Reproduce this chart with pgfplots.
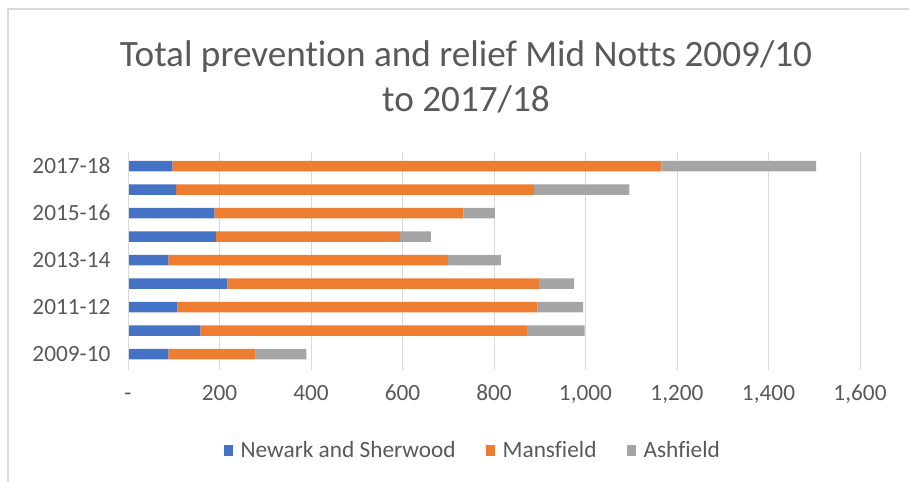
\documentclass[border=0pt]{standalone}
\usepackage{pgfplots}
\pgfplotsset{compat=1.18}
\usepackage{fontspec}
\setmainfont{Carlito}[Ligatures={NoCommon,NoRequired,NoContextual}]
\definecolor{cblue}{HTML}{4472C4}
\definecolor{corange}{HTML}{ED7D31}
\definecolor{cgray}{HTML}{A5A5A5}
\definecolor{gridc}{HTML}{D9D9D9}
\definecolor{txt}{HTML}{595959}
\begin{document}
\begin{tikzpicture}
\useasboundingbox (0pt,0pt) rectangle (909pt,482pt);
\draw[gridc, line width=2pt] (8pt,0pt) -- (8pt,473pt) -- (909pt,473pt);
\node[font=\fontsize{37.2}{45}\selectfont, text=txt, align=center] at (466pt,405pt) {Total prevention and relief Mid Notts 2009/10\\to 2017/18};
\begin{axis}[
  at={(128pt,112pt)}, anchor=south west,
  scale only axis, width=732pt, height=218pt,
  xbar stacked, bar width=10.5pt,
  xmin=0, xmax=1600, ymin=-0.68, ymax=8.6,
  xtick={0,200,...,1600},
  xticklabels={-,200,400,600,800,{1,000},{1,200},{1,400},{1,600}},
  ytick={0,2,4,6,8},
  yticklabels={2009-10,2011-12,2013-14,2015-16,2017-18},
  xmajorgrids, major grid style={gridc, line width=1pt},
  axis line style={draw=none},
  major tick length=0pt,
  tick label style={font=\fontsize{23.3}{28}\selectfont, text=txt},
  xticklabel style={anchor=center, text height=16pt, text depth=4pt, inner sep=0pt, yshift=-24pt},
  yticklabel style={xshift=-14pt},
  legend columns=3,
  legend style={at={(0.471,-0.367)}, anchor=center, draw=none,
    font=\fontsize{23.3}{28}\selectfont, text=txt,
    /tikz/every odd column/.append style={column sep=6pt},
    /tikz/every even column/.append style={column sep=28pt},
    nodes={inner sep=2pt}},
  legend image code/.code={\fill[#1] (0pt,-5.5pt) rectangle (9pt,5.5pt);},
  every axis plot/.append style={draw=none},
]
\draw[gridc, line width=1pt] (axis cs:0,-0.68) -- (axis cs:0,8.6);
\addplot[fill=cblue] coordinates {(88,0) (158,1) (108,2) (217,3) (88,4) (192,5) (189,6) (105,7) (97,8)};
\addplot[fill=corange] coordinates {(191,0) (714,1) (787,2) (681,3) (611,4) (403,5) (544,6) (782,7) (1069,8)};
\addplot[fill=cgray] coordinates {(111,0) (126,1) (100,2) (77,3) (116,4) (67,5) (69,6) (209,7) (338,8)};
\legend{Newark and Sherwood, Mansfield, Ashfield}
\end{axis}
\end{tikzpicture}
\end{document}
